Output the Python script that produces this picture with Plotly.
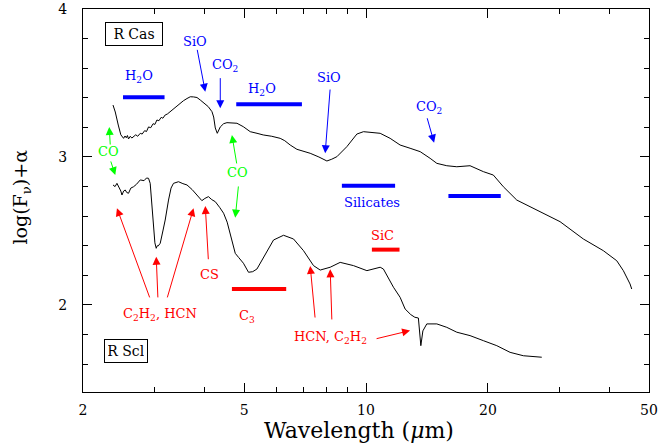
import numpy as np
import plotly.graph_objects as go

# ---------------- data ----------------
rcas_wl = [2.372, 2.403, 2.444, 2.480, 2.519, 2.540, 2.558, 2.575, 2.591, 2.617, 2.640, 2.666,
           2.700, 2.730, 2.770, 2.800, 2.840, 2.870, 2.903, 2.940, 2.980, 3.010, 3.045, 3.080,
           3.120, 3.150, 3.192, 3.230, 3.284, 3.330, 3.380, 3.430, 3.478, 3.540, 3.613, 3.681,
           3.750, 3.824, 3.896, 3.980, 4.078, 4.165, 4.205, 4.244, 4.292, 4.366, 4.450, 4.535,
           4.650, 4.800, 4.975, 5.177, 5.380, 5.574, 5.850, 6.139, 6.300, 6.498, 6.751, 7.000,
           7.281, 7.650, 8.006, 8.230, 8.474, 8.970, 9.494, 9.858, 10.43, 10.84, 11.47, 12.14,
           12.85, 13.61, 14.40, 14.96, 15.83, 16.76, 18.07, 19.49, 20.63, 21.84, 23.57, 25.42,
           27.42, 30.15, 34.42, 38.56, 41.62, 43.21, 44.89, 45.32]
rcas_flux = [3.351, 3.304, 3.216, 3.150, 3.126, 3.142, 3.130, 3.145, 3.122, 3.140, 3.128, 3.135,
             3.150, 3.140, 3.160, 3.155, 3.178, 3.172, 3.203, 3.198, 3.225, 3.220, 3.250, 3.245,
             3.268, 3.262, 3.284, 3.290, 3.306, 3.322, 3.335, 3.350, 3.365, 3.380, 3.395, 3.407,
             3.406, 3.402, 3.385, 3.362, 3.340, 3.306, 3.270, 3.196, 3.160, 3.203, 3.225, 3.232,
             3.228, 3.228, 3.205, 3.171, 3.160, 3.149, 3.140, 3.126, 3.110, 3.081, 3.052, 3.040,
             3.025, 3.000, 2.973, 2.985, 3.002, 3.070, 3.155, 3.171, 3.166, 3.160, 3.126, 3.081,
             3.059, 3.036, 2.991, 2.957, 2.941, 2.934, 2.941, 2.901, 2.878, 2.799, 2.709, 2.664,
             2.620, 2.563, 2.446, 2.367, 2.299, 2.232, 2.142, 2.108]

rscl_wl = [2.372, 2.400, 2.426, 2.458, 2.480, 2.496, 2.520, 2.543, 2.565, 2.591, 2.625, 2.666,
           2.710, 2.770, 2.830, 2.870, 2.903, 2.931, 2.960, 2.987, 3.010, 3.033, 3.050, 3.068,
           3.103, 3.150, 3.192, 3.253, 3.300, 3.346, 3.443, 3.530, 3.613, 3.720, 3.824, 3.932,
           4.000, 4.081, 4.160, 4.244, 4.349, 4.449, 4.540, 4.621, 4.700, 4.754, 4.850, 4.981,
           5.127, 5.250, 5.378, 5.530, 5.692, 5.910, 6.256, 6.621, 7.009, 7.419, 7.707, 8.158,
           8.634, 9.313, 10.05, 10.84, 11.04, 11.69, 12.14, 12.49, 12.90, 13.20, 13.47, 13.66,
           13.82, 14.13, 14.96, 15.83, 16.76, 18.07, 19.49, 21.04, 22.69, 24.47, 27.17]
rscl_flux = [2.811, 2.800, 2.822, 2.791, 2.770, 2.743, 2.770, 2.777, 2.760, 2.755, 2.790, 2.799,
             2.815, 2.845, 2.840, 2.858, 2.856, 2.822, 2.664, 2.507, 2.420, 2.383, 2.400, 2.399,
             2.417, 2.500, 2.574, 2.709, 2.790, 2.822, 2.833, 2.820, 2.811, 2.780, 2.743, 2.705,
             2.720, 2.732, 2.712, 2.698, 2.660, 2.620, 2.560, 2.484, 2.400, 2.349, 2.320, 2.282,
             2.221, 2.225, 2.243, 2.300, 2.367, 2.439, 2.471, 2.446, 2.367, 2.266, 2.236, 2.255,
             2.288, 2.266, 2.232, 2.255, 2.243, 2.120, 2.052, 1.973, 1.935, 1.917, 1.912, 1.725,
             1.825, 1.872, 1.872, 1.849, 1.816, 1.793, 1.759, 1.725, 1.680, 1.657, 1.647]

# feature bands: start, end (micron), level
band_start = [2.511, 4.781, 8.718, 15.98, 10.34, 4.665]
band_end = [3.180, 6.946, 11.80, 21.52, 12.10, 6.352]
band_level = [3.403, 3.356, 2.806, 2.736, 2.374, 2.108]
band_color = ["blue", "blue", "blue", "blue", "red", "red"]

# labels
label_text = ["H<sub>2</sub>O", "SiO", "CO<sub>2</sub>", "H<sub>2</sub>O", "SiO", "CO<sub>2</sub>",
              "Silicates", "SiC", "C<sub>3</sub>", "C<sub>2</sub>H<sub>2</sub>, HCN", "CS",
              "HCN, C<sub>2</sub>H<sub>2</sub>", "CO", "CO"]
label_wl = [2.743, 3.787, 4.474, 5.533, 8.111, 14.34, 10.34, 11.01, 5.081, 3.103, 4.109, 8.158, 2.313, 4.828]
label_y = [3.543, 3.779, 3.617, 3.453, 3.534, 3.336, 2.691, 2.468, 1.921, 1.939, 2.203, 1.777, 3.036, 2.894]
label_color = ["blue"] * 7 + ["red"] * 5 + ["lime"] * 2

# arrows: tail -> tip
arrow_tail_wl = [3.824, 4.366, 8.158, 14.13, 2.931, 3.063, 3.223, 4.081, 7.491, 8.236, 10.53, 2.336, 2.336, 4.800, 4.844]
arrow_tail_y = [3.734, 3.543, 3.466, 3.272, 2.041, 2.041, 2.041, 2.299, 1.905, 1.892, 1.770, 3.074, 2.980, 2.946, 2.811]
arrow_tip_wl = [4.009, 4.366, 7.929, 14.73, 2.426, 3.033, 3.751, 4.009, 7.281, 8.158, 12.85, 2.322, 2.403, 4.665, 4.754]
arrow_tip_y = [3.441, 3.329, 3.025, 3.097, 2.654, 2.326, 2.654, 2.669, 2.264, 2.241, 1.827, 3.203, 2.878, 3.149, 2.590]
arrow_color = ["blue"] * 4 + ["red"] * 7 + ["lime"] * 4

star_names = ["R Cas", "R Scl"]
star_wl = [2.677, 2.558]
star_y = [3.831, 1.689]
star_boxw = [50, 36]

x_ticks = [2, 5, 10, 20, 50]
x_minor = [3, 4, 6, 7, 8, 9, 30, 40]
y_ticks = [2, 3, 4]

FONT = "DejaVu Serif"

fig = go.Figure()
fig.add_trace(go.Scatter(x=rcas_wl, y=rcas_flux, mode="lines",
                         line=dict(color="black", width=1), showlegend=False))
fig.add_trace(go.Scatter(x=rscl_wl, y=rscl_flux, mode="lines",
                         line=dict(color="black", width=1), showlegend=False))
for x0, x1, yv, c in zip(band_start, band_end, band_level, band_color):
    fig.add_trace(go.Scatter(x=[x0, x1], y=[yv, yv], mode="lines",
                             line=dict(color=c, width=4), showlegend=False))

ann = []
for t, xw, yv, c in zip(label_text, label_wl, label_y, label_color):
    ann.append(dict(x=np.log10(xw), y=yv, xref="x", yref="y", text=t, showarrow=False,
                    font=dict(family=FONT, size=13, color=c)))
for tx, ty, hx, hy, c in zip(arrow_tail_wl, arrow_tail_y, arrow_tip_wl, arrow_tip_y, arrow_color):
    ann.append(dict(x=np.log10(hx), y=hy, ax=np.log10(tx), ay=ty, xref="x", yref="y",
                    axref="x", ayref="y", text="", showarrow=True, arrowhead=2,
                    arrowsize=1.6, arrowwidth=1, arrowcolor=c))
for n, xw, yv, bw in zip(star_names, star_wl, star_y, star_boxw):
    ann.append(dict(x=np.log10(xw), y=yv, xref="x", yref="y", text=n, showarrow=False,
                    font=dict(family=FONT, size=14, color="black"), width=bw, height=16,
                    bordercolor="black", borderwidth=1, borderpad=3, bgcolor="white"))
# axis titles
ann.append(dict(x=0.488, y=-0.1, xref="paper", yref="paper", text="Wavelength (<i>μ</i>m)",
                showarrow=False, xanchor="center", yanchor="middle",
                font=dict(family=FONT, size=22, color="black")))
ann.append(dict(x=-0.108, y=0.51, xref="paper", yref="paper", text="log(F<sub>ν</sub>)+α",
                showarrow=False, xanchor="center", yanchor="middle", textangle=-90,
                font=dict(family=FONT, size=19, color="black")))

fig.update_layout(
    width=660, height=448, margin=dict(l=83, r=11, t=9, b=56),
    paper_bgcolor="white", plot_bgcolor="white", annotations=ann,
    font=dict(family=FONT, color="black"),
)
fig.update_xaxes(type="log", range=[np.log10(2), np.log10(50)], tickmode="array",
                 tickvals=x_ticks, ticktext=[str(v) for v in x_ticks], automargin=False,
                 ticks="inside", ticklen=9, tickwidth=1, tickcolor="black",
                 minor=dict(tickvals=x_minor, ticks="inside", ticklen=5, tickwidth=1, tickcolor="black", showgrid=False),
                 showline=True, linecolor="black", linewidth=1, mirror="ticks", showgrid=False,
                 zeroline=False, tickfont=dict(family=FONT, size=14), ticklabelstandoff=5)
fig.update_yaxes(range=[1.412, 4.0], tickmode="array", tickvals=y_ticks, automargin=False,
                 ticks="inside", ticklen=9, tickwidth=1, tickcolor="black",
                 minor=dict(dtick=0.2, ticks="inside", ticklen=5, tickwidth=1, tickcolor="black", showgrid=False),
                 showline=True, linecolor="black", linewidth=1, mirror="ticks", showgrid=False,
                 zeroline=False, tickfont=dict(family=FONT, size=14), ticklabelstandoff=12)

# remove the browser's default 8px body margin so the figure sits at the window origin
fig.write_html("out.html", config={"displayModeBar": False},
               post_script="document.body.style.margin='0';")
